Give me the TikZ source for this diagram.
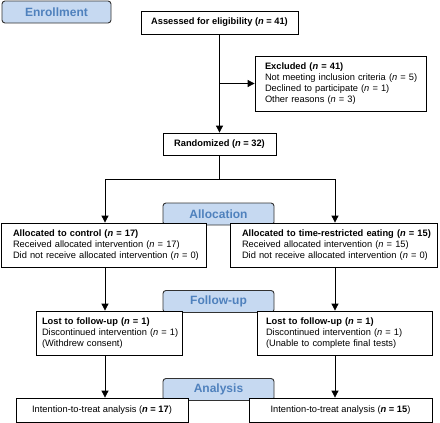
\documentclass[tikz,border=0pt]{standalone}
\usepackage{fontspec}
\setmainfont{Liberation Sans}
\usetikzlibrary{arrows.meta}
\definecolor{phasefill}{RGB}{198,217,241}
\definecolor{phasetext}{RGB}{79,129,189}
\definecolor{phaseline}{RGB}{50,50,50}
\newcommand{\oneline}[1]{\mbox{#1}}
\begin{document}
\begin{tikzpicture}[x=1pt,y=-1pt,
  box/.style={draw=black, line width=0.8pt, fill=white, inner ysep=0pt,
    font=\fontsize{9.3}{11}\selectfont},
  lbox/.style={box, align=left},
  phase/.style={draw=phaseline, line width=0.9pt, rounded corners=3pt, fill=phasefill,
    text=phasetext, font=\bfseries\fontsize{12}{14}\selectfont,
    minimum height=22pt, inner sep=0pt},
  conn/.style={draw=black, line width=0.8pt},
  arr/.style={conn, -{Triangle[width=7pt,length=7pt]}}
]
\useasboundingbox (0,0) rectangle (440,423);

% phase labels
\node[phase, minimum width=109pt] (enr) at (56.5,12) {Enrollment};
\node[phase, minimum width=111pt] (allocl) at (218.5,214) {Allocation};
\node[phase, minimum width=111pt] (fupl) at (218.5,301.5) {Follow-up};
\node[phase, minimum width=111pt] (anal) at (218.5,389.5) {Analysis};

% boxes
\node[box, minimum width=157pt, minimum height=23pt, font=\bfseries\fontsize{9.3}{11}\selectfont] (assess) at (219.5,22.5)
  {Assessed for eligibility (\textit{n} = 41)};
\node[lbox, inner xsep=10pt, text width=151pt, minimum height=55pt] (excl) at (340.5,83.5)
  {\oneline{\textbf{Excluded (\textit{n} = 41)}}\\
   \oneline{Not meeting inclusion criteria (\textit{n} = 5)}\\
   \oneline{Declined to participate (\textit{n} = 1)}\\
   \oneline{Other reasons (\textit{n} = 3)}};
\node[box, minimum width=113pt, minimum height=22pt, font=\bfseries\fontsize{9.3}{11}\selectfont] (rand) at (219.5,144)
  {Randomized (\textit{n} = 32)};

\node[lbox, inner xsep=12pt, text width=181pt, minimum height=44pt] (alloc1) at (103.5,245)
  {\oneline{\textbf{Allocated to control (\textit{n} = 17)}}\\
   \oneline{Received allocated intervention (\textit{n} = 17)}\\
   \oneline{Did not receive allocated intervention (\textit{n} = 0)}};
\node[lbox, inner xsep=12pt, text width=183pt, minimum height=44pt] (alloc2) at (333.5,245)
  {\oneline{\textbf{Allocated to time-restricted eating (\textit{n} = 15)}}\\
   \oneline{Received allocated intervention (\textit{n} = 15)}\\
   \oneline{Did not receive allocated intervention (\textit{n} = 0)}};

\node[lbox, inner xsep=6pt, text width=134pt, minimum height=44pt] (lost1) at (109,333)
  {\oneline{\textbf{Lost to follow-up (\textit{n} = 1)}}\\
   \oneline{Discontinued intervention (\textit{n} = 1)}\\
   \oneline{(Withdrew consent)}};
\node[lbox, inner xsep=9pt, text width=157pt, minimum height=44pt] (lost2) at (344.5,333)
  {\oneline{\textbf{Lost to follow-up (\textit{n} = 1)}}\\
   \oneline{Discontinued intervention (\textit{n} = 1)}\\
   \oneline{(Unable to complete final tests)}};

\node[box, minimum width=172pt, minimum height=24pt] (itt1) at (102,410)
  {Intention-to-treat analysis (\textbf{\textit{n} = 17})};
\node[box, minimum width=183pt, minimum height=24pt] (itt2) at (340.5,410)
  {Intention-to-treat analysis (\textbf{\textit{n} = 15})};

% routing coordinates
\coordinate (L) at (105,179);
\coordinate (R) at (335,179);

% connectors
\draw[arr] (assess) -- (rand);
\draw[arr] (assess.south |- excl.west) -- (excl.west);
\draw[conn] (rand.south) -- (rand.south |- L);
\draw[conn] (L) -- (R);
\draw[arr] (L) -- (alloc1.north -| L);
\draw[arr] (R) -- (alloc2.north -| R);
\draw[arr] (alloc1.south -| L) -- (lost1.north -| L);
\draw[arr] (alloc2.south -| R) -- (lost2.north -| R);
\draw[arr] (lost1.south -| L) -- (itt1.north -| L);
\draw[arr] (lost2.south -| R) -- (itt2.north -| R);
\end{tikzpicture}
\end{document}
